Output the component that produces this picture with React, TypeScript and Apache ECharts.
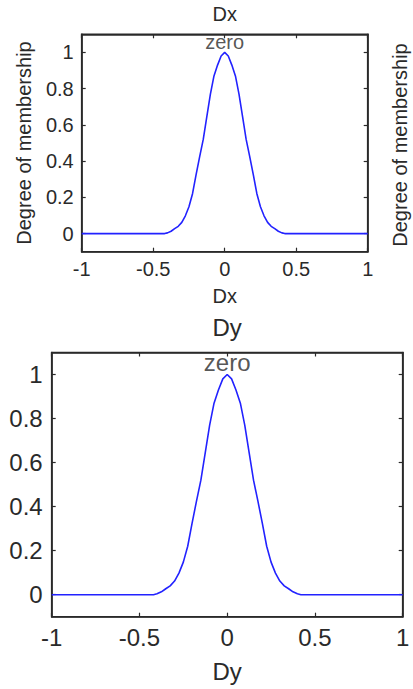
import React, { useEffect, useRef } from "react";
import * as echarts from "echarts";

// x positions (input universe) and the read membership degrees of the "zero" MF
const inputValues = [
  -1, -0.42, -0.4, -0.375, -0.35, -0.325, -0.3, -0.275, -0.25, -0.225, -0.2, -0.175, -0.15,
  -0.125, -0.1, -0.075, -0.05, -0.025, 0, 0.025, 0.05, 0.075, 0.1, 0.125, 0.15, 0.175, 0.2,
  0.225, 0.25, 0.275, 0.3, 0.325, 0.35, 0.375, 0.4, 0.42, 1,
];
const dxMembership = [
  0, 0, 0.004, 0.013, 0.027, 0.04, 0.062, 0.098, 0.148, 0.22, 0.325, 0.425, 0.52, 0.645,
  0.77, 0.87, 0.93, 0.98, 1, 0.98, 0.93, 0.87, 0.77, 0.645, 0.52, 0.425, 0.325, 0.22, 0.148,
  0.098, 0.062, 0.04, 0.027, 0.013, 0.004, 0, 0,
];
const dyMembership = [
  0, 0, 0.004, 0.013, 0.027, 0.04, 0.062, 0.098, 0.148, 0.22, 0.325, 0.425, 0.52, 0.645,
  0.77, 0.87, 0.93, 0.98, 1, 0.98, 0.93, 0.87, 0.77, 0.645, 0.52, 0.425, 0.325, 0.22, 0.148,
  0.098, 0.062, 0.04, 0.027, 0.013, 0.004, 0, 0,
];
const xTicks = [-1, -0.5, 0, 0.5, 1];
const yTicks = [0, 0.2, 0.4, 0.6, 0.8, 1];
const mfName = "zero";
const mfPeak = [0, 1];
const titles = ["Dx", "Dy"];
const yName = "Degree of membership";

const FONT = "'Liberation Sans', Arial, Helvetica, sans-serif";
const TEXT = "#2a2a2a";
const AXIS = "#2a2a2a";
const LINE = "#2222ff";

function xAx(grid: number, pos: "bottom" | "top", fs: number, name: string, gap: number, labelMargin: number) {
  const isMain = pos === "bottom";
  return {
    type: "value",
    gridIndex: grid,
    position: pos,
    min: -1,
    max: 1,
    name: isMain ? name : "",
    nameLocation: "middle",
    nameGap: gap,
    nameTextStyle: { fontSize: fs, color: TEXT, fontFamily: FONT },
    axisLine: { show: true, onZero: false, lineStyle: { color: AXIS, width: 1.6 } },
    axisTick: { show: true, inside: true, length: 4, customValues: xTicks, lineStyle: { color: AXIS, width: 1.2 } },
    axisLabel: {
      show: isMain,
      customValues: xTicks,
      fontSize: fs,
      color: TEXT,
      fontFamily: FONT,
      margin: labelMargin,
    },
    splitLine: { show: false },
  };
}

function yAx(grid: number, pos: "left" | "right", fs: number, name: string, gap: number, labelMargin: number) {
  const isMain = pos === "left";
  return {
    type: "value",
    gridIndex: grid,
    position: pos,
    min: -0.1,
    max: 1.1,
    name: isMain ? name : "",
    nameLocation: "middle",
    nameGap: gap,
    nameTextStyle: { fontSize: fs, color: TEXT, fontFamily: FONT },
    axisLine: { show: true, onZero: false, lineStyle: { color: AXIS, width: 1.6 } },
    axisTick: { show: true, inside: true, length: 4, customValues: yTicks, lineStyle: { color: AXIS, width: 1.2 } },
    axisLabel: {
      show: isMain,
      customValues: yTicks,
      fontSize: fs,
      color: TEXT,
      fontFamily: FONT,
      margin: labelMargin,
    },
    splitLine: { show: false },
  };
}

export default function App() {
  const ref = useRef<HTMLDivElement>(null);
  useEffect(() => {
    if (!ref.current) return;
    const chart = echarts.init(ref.current, null, { renderer: "svg" });
    const dxData = inputValues.map((x, i) => [x, dxMembership[i]]);
    const dyData = inputValues.map((x, i) => [x, dyMembership[i]]);
    chart.setOption({
      animation: false,
      backgroundColor: "#ffffff",
      textStyle: { fontFamily: FONT },
      grid: [
        {
          left: 81.7, top: 34.3, width: 286, height: 217.4, containLabel: false,
          show: true, borderColor: AXIS, borderWidth: 1.6, backgroundColor: "transparent",
        },
        {
          left: 51.7, top: 352.5, width: 351, height: 264.2, containLabel: false,
          show: true, borderColor: AXIS, borderWidth: 1.6, backgroundColor: "transparent",
        },
      ],
      xAxis: [
        xAx(0, "bottom", 20, titles[0], 34, 7),
        xAx(0, "top", 20, "", 0, 0),
        xAx(1, "bottom", 24, titles[1], 43, 9),
        xAx(1, "top", 24, "", 0, 0),
      ],
      yAxis: [
        yAx(0, "left", 20, yName, 48, 8),
        yAx(0, "right", 20, "", 0, 0),
        yAx(1, "left", 24, "", 0, 9),
        yAx(1, "right", 24, "", 0, 0),
      ],
      graphic: [
        {
          type: "text",
          x: 224.7,
          y: 13.7,
          style: {
            text: titles[0],
            fontSize: 20,
            fontFamily: FONT,
            fill: TEXT,
            align: "center",
            verticalAlign: "middle",
            textAlign: "center",
            textVerticalAlign: "middle",
          },
        },
        {
          type: "text",
          x: 227.2,
          y: 327,
          style: {
            text: titles[1],
            fontSize: 24,
            fontFamily: FONT,
            fill: TEXT,
            align: "center",
            verticalAlign: "middle",
            textAlign: "center",
            textVerticalAlign: "middle",
          },
        },
        {
          type: "text",
          x: 399.5,
          y: 145,
          rotation: Math.PI / 2,
          style: {
            text: yName,
            fontSize: 20,
            fontFamily: FONT,
            fill: TEXT,
            align: "center",
            verticalAlign: "middle",
            textAlign: "center",
            textVerticalAlign: "middle",
          },
        },
      ],
      series: [
        {
          type: "line",
          xAxisIndex: 0,
          yAxisIndex: 0,
          data: dxData,
          showSymbol: false,
          symbol: "none",
          lineStyle: { color: LINE, width: 1.6 },
        },
        {
          type: "scatter",
          xAxisIndex: 0,
          yAxisIndex: 0,
          data: [mfPeak],
          symbolSize: 0,
          label: {
            show: true,
            position: "top",
            distance: 0,
            formatter: mfName,
            fontSize: 20,
            color: TEXT,
            fontFamily: FONT,
          },
        },
        { type: "line", xAxisIndex: 1, yAxisIndex: 1, data: [], symbol: "none" },
        {
          type: "line",
          xAxisIndex: 2,
          yAxisIndex: 2,
          data: dyData,
          showSymbol: false,
          symbol: "none",
          lineStyle: { color: LINE, width: 1.6 },
        },
        {
          type: "scatter",
          xAxisIndex: 2,
          yAxisIndex: 2,
          data: [mfPeak],
          symbolSize: 0,
          label: {
            show: true,
            position: "top",
            distance: 0,
            formatter: mfName,
            fontSize: 24,
            color: TEXT,
            fontFamily: FONT,
          },
        },
        { type: "line", xAxisIndex: 3, yAxisIndex: 3, data: [], symbol: "none" },
      ],
    });
    return () => chart.dispose();
  }, []);
  return (
    <div
      ref={ref}
      style={{ position: "fixed", left: 0, top: 0, width: 413, height: 689, background: "#fff" }}
    />
  );
}
